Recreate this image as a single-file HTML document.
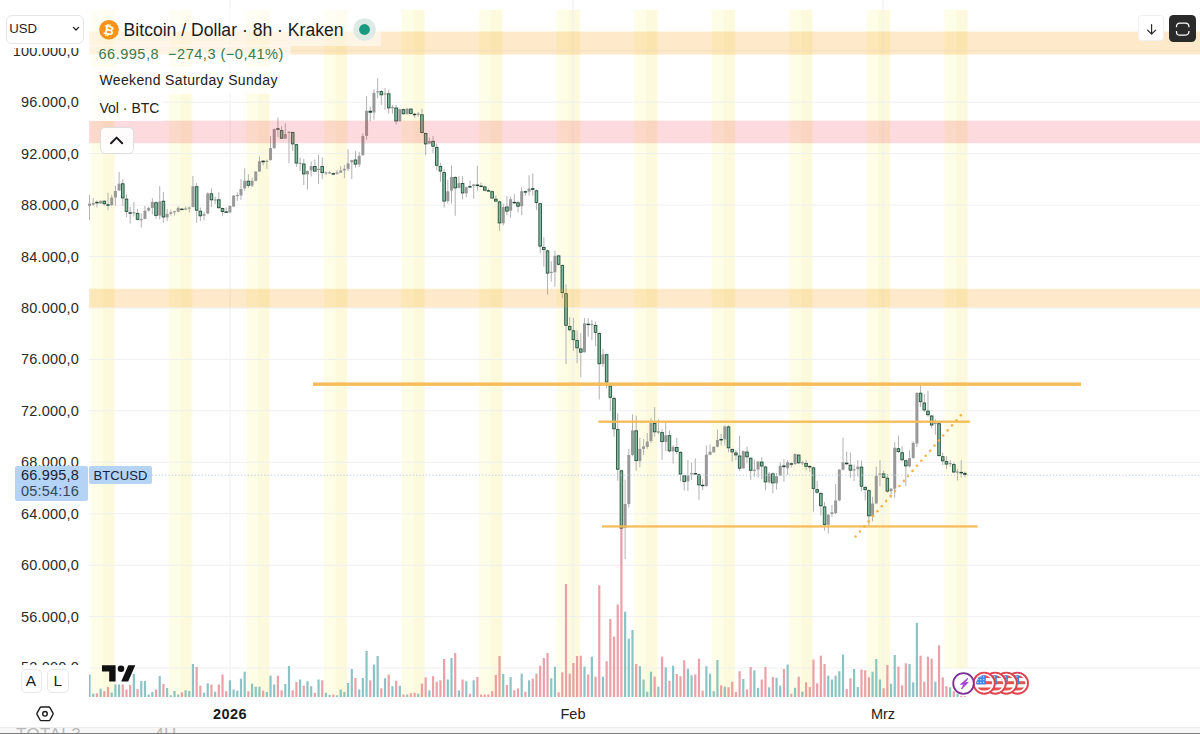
<!DOCTYPE html><html><head><meta charset="utf-8"><title>BTCUSD</title><style>
html,body{margin:0;padding:0;background:#fff;}
body{width:1200px;height:734px;overflow:hidden;position:relative;font-family:"Liberation Sans",sans-serif;color:#1e1e1e;}
.abs{position:absolute;}
.pl{position:absolute;right:1121px;font-size:14.5px;color:#2b2b2b;white-space:nowrap;line-height:16px;height:16px;letter-spacing:0.2px}
.btn{position:absolute;background:#fff;border:1px solid #e3e3e3;border-radius:5px;box-sizing:border-box;}
</style></head><body>
<svg id="chart" width="1200" height="734" viewBox="0 0 1200 734" style="position:absolute;left:0;top:0">
<defs><linearGradient id="wk" x1="0" x2="1" y1="0" y2="0"><stop offset="0" stop-color="#fffff6"/><stop offset="0.07" stop-color="#fefde8"/><stop offset="0.49" stop-color="#fefde5"/><stop offset="0.53" stop-color="#fcfadd"/><stop offset="0.93" stop-color="#fcf9dc"/><stop offset="1" stop-color="#fffef4"/></linearGradient></defs>
<rect x="90.6" y="10" width="24.5" height="687" fill="url(#wk)"/>
<rect x="168.2" y="10" width="24.5" height="687" fill="url(#wk)"/>
<rect x="245.7" y="10" width="24.5" height="687" fill="url(#wk)"/>
<rect x="323.3" y="10" width="24.5" height="687" fill="url(#wk)"/>
<rect x="400.8" y="10" width="24.5" height="687" fill="url(#wk)"/>
<rect x="478.4" y="10" width="24.5" height="687" fill="url(#wk)"/>
<rect x="556.0" y="10" width="24.5" height="687" fill="url(#wk)"/>
<rect x="633.5" y="10" width="24.5" height="687" fill="url(#wk)"/>
<rect x="711.1" y="10" width="24.5" height="687" fill="url(#wk)"/>
<rect x="788.6" y="10" width="24.5" height="687" fill="url(#wk)"/>
<rect x="866.2" y="10" width="24.5" height="687" fill="url(#wk)"/>
<rect x="943.8" y="10" width="24.5" height="658.7" fill="url(#wk)"/>
<rect x="89" y="667.5" width="1111" height="1" fill="#f0f0f0"/>
<rect x="89" y="616.1" width="1111" height="1" fill="#f0f0f0"/>
<rect x="89" y="564.7" width="1111" height="1" fill="#f0f0f0"/>
<rect x="89" y="513.2" width="1111" height="1" fill="#f0f0f0"/>
<rect x="89" y="461.8" width="1111" height="1" fill="#f0f0f0"/>
<rect x="89" y="410.3" width="1111" height="1" fill="#f0f0f0"/>
<rect x="89" y="358.9" width="1111" height="1" fill="#f0f0f0"/>
<rect x="89" y="307.5" width="1111" height="1" fill="#f0f0f0"/>
<rect x="89" y="256.0" width="1111" height="1" fill="#f0f0f0"/>
<rect x="89" y="204.6" width="1111" height="1" fill="#f0f0f0"/>
<rect x="89" y="153.1" width="1111" height="1" fill="#f0f0f0"/>
<rect x="89" y="101.7" width="1111" height="1" fill="#f0f0f0"/>
<rect x="89" y="50.3" width="1111" height="1" fill="#f0f0f0"/>
<rect x="229.5" y="0" width="1" height="697" fill="#f0f0f0"/>
<rect x="572.5" y="0" width="1" height="697" fill="#f0f0f0"/>
<rect x="882.5" y="0" width="1" height="697" fill="#f0f0f0"/>
<rect x="88.45" y="674.5" width="2.2" height="22.5" fill="#6fb5b6" fill-opacity="0.8"/>
<rect x="92.14" y="693.7" width="2.2" height="3.3" fill="#6fb5b6" fill-opacity="0.8"/>
<rect x="95.84" y="693.3" width="2.2" height="3.7" fill="#e58a92" fill-opacity="0.8"/>
<rect x="99.53" y="688.7" width="2.2" height="8.3" fill="#6fb5b6" fill-opacity="0.8"/>
<rect x="103.22" y="691.2" width="2.2" height="5.8" fill="#e58a92" fill-opacity="0.8"/>
<rect x="106.92" y="687.0" width="2.2" height="10.0" fill="#e58a92" fill-opacity="0.8"/>
<rect x="110.61" y="692.5" width="2.2" height="4.5" fill="#6fb5b6" fill-opacity="0.8"/>
<rect x="114.30" y="684.5" width="2.2" height="12.5" fill="#6fb5b6" fill-opacity="0.8"/>
<rect x="118.00" y="684.5" width="2.2" height="12.5" fill="#6fb5b6" fill-opacity="0.8"/>
<rect x="121.69" y="684.5" width="2.2" height="12.5" fill="#e58a92" fill-opacity="0.8"/>
<rect x="125.38" y="689.5" width="2.2" height="7.5" fill="#e58a92" fill-opacity="0.8"/>
<rect x="129.08" y="685.0" width="2.2" height="12.0" fill="#e58a92" fill-opacity="0.8"/>
<rect x="132.77" y="674.0" width="2.2" height="23.0" fill="#6fb5b6" fill-opacity="0.8"/>
<rect x="136.47" y="689.0" width="2.2" height="8.0" fill="#e58a92" fill-opacity="0.8"/>
<rect x="140.16" y="681.0" width="2.2" height="16.0" fill="#6fb5b6" fill-opacity="0.8"/>
<rect x="143.85" y="681.0" width="2.2" height="16.0" fill="#6fb5b6" fill-opacity="0.8"/>
<rect x="147.55" y="694.5" width="2.2" height="2.5" fill="#6fb5b6" fill-opacity="0.8"/>
<rect x="151.24" y="692.0" width="2.2" height="5.0" fill="#6fb5b6" fill-opacity="0.8"/>
<rect x="154.93" y="689.5" width="2.2" height="7.5" fill="#e58a92" fill-opacity="0.8"/>
<rect x="158.63" y="676.0" width="2.2" height="21.0" fill="#6fb5b6" fill-opacity="0.8"/>
<rect x="162.32" y="684.0" width="2.2" height="13.0" fill="#e58a92" fill-opacity="0.8"/>
<rect x="166.01" y="688.0" width="2.2" height="9.0" fill="#6fb5b6" fill-opacity="0.8"/>
<rect x="169.71" y="695.3" width="2.2" height="1.7" fill="#6fb5b6" fill-opacity="0.8"/>
<rect x="173.40" y="691.0" width="2.2" height="6.0" fill="#6fb5b6" fill-opacity="0.8"/>
<rect x="177.09" y="694.5" width="2.2" height="2.5" fill="#6fb5b6" fill-opacity="0.8"/>
<rect x="180.79" y="692.3" width="2.2" height="4.7" fill="#e58a92" fill-opacity="0.8"/>
<rect x="184.48" y="690.3" width="2.2" height="6.7" fill="#6fb5b6" fill-opacity="0.8"/>
<rect x="188.17" y="691.0" width="2.2" height="6.0" fill="#6fb5b6" fill-opacity="0.8"/>
<rect x="191.87" y="664.0" width="2.2" height="33.0" fill="#6fb5b6" fill-opacity="0.8"/>
<rect x="195.56" y="667.0" width="2.2" height="30.0" fill="#e58a92" fill-opacity="0.8"/>
<rect x="199.25" y="685.7" width="2.2" height="11.3" fill="#e58a92" fill-opacity="0.8"/>
<rect x="202.95" y="692.8" width="2.2" height="4.2" fill="#6fb5b6" fill-opacity="0.8"/>
<rect x="206.64" y="683.3" width="2.2" height="13.7" fill="#6fb5b6" fill-opacity="0.8"/>
<rect x="210.34" y="684.5" width="2.2" height="12.5" fill="#e58a92" fill-opacity="0.8"/>
<rect x="214.03" y="691.7" width="2.2" height="5.3" fill="#6fb5b6" fill-opacity="0.8"/>
<rect x="217.72" y="684.5" width="2.2" height="12.5" fill="#e58a92" fill-opacity="0.8"/>
<rect x="221.42" y="674.5" width="2.2" height="22.5" fill="#e58a92" fill-opacity="0.8"/>
<rect x="225.11" y="691.2" width="2.2" height="5.8" fill="#e58a92" fill-opacity="0.8"/>
<rect x="228.80" y="680.3" width="2.2" height="16.7" fill="#6fb5b6" fill-opacity="0.8"/>
<rect x="232.50" y="689.5" width="2.2" height="7.5" fill="#6fb5b6" fill-opacity="0.8"/>
<rect x="236.19" y="690.7" width="2.2" height="6.3" fill="#6fb5b6" fill-opacity="0.8"/>
<rect x="239.88" y="678.7" width="2.2" height="18.3" fill="#6fb5b6" fill-opacity="0.8"/>
<rect x="243.58" y="671.7" width="2.2" height="25.3" fill="#6fb5b6" fill-opacity="0.8"/>
<rect x="247.27" y="691.2" width="2.2" height="5.8" fill="#e58a92" fill-opacity="0.8"/>
<rect x="250.96" y="683.7" width="2.2" height="13.3" fill="#6fb5b6" fill-opacity="0.8"/>
<rect x="254.66" y="686.7" width="2.2" height="10.3" fill="#6fb5b6" fill-opacity="0.8"/>
<rect x="258.35" y="686.7" width="2.2" height="10.3" fill="#6fb5b6" fill-opacity="0.8"/>
<rect x="262.04" y="690.7" width="2.2" height="6.3" fill="#e58a92" fill-opacity="0.8"/>
<rect x="265.74" y="692.0" width="2.2" height="5.0" fill="#6fb5b6" fill-opacity="0.8"/>
<rect x="269.43" y="675.7" width="2.2" height="21.3" fill="#6fb5b6" fill-opacity="0.8"/>
<rect x="273.12" y="684.5" width="2.2" height="12.5" fill="#6fb5b6" fill-opacity="0.8"/>
<rect x="276.82" y="675.7" width="2.2" height="21.3" fill="#e58a92" fill-opacity="0.8"/>
<rect x="280.51" y="690.3" width="2.2" height="6.7" fill="#e58a92" fill-opacity="0.8"/>
<rect x="284.21" y="684.0" width="2.2" height="13.0" fill="#6fb5b6" fill-opacity="0.8"/>
<rect x="287.90" y="666.0" width="2.2" height="31.0" fill="#6fb5b6" fill-opacity="0.8"/>
<rect x="291.59" y="690.3" width="2.2" height="6.7" fill="#e58a92" fill-opacity="0.8"/>
<rect x="295.29" y="682.0" width="2.2" height="15.0" fill="#e58a92" fill-opacity="0.8"/>
<rect x="298.98" y="679.5" width="2.2" height="17.5" fill="#6fb5b6" fill-opacity="0.8"/>
<rect x="302.67" y="685.7" width="2.2" height="11.3" fill="#e58a92" fill-opacity="0.8"/>
<rect x="306.37" y="681.2" width="2.2" height="15.8" fill="#6fb5b6" fill-opacity="0.8"/>
<rect x="310.06" y="686.2" width="2.2" height="10.8" fill="#6fb5b6" fill-opacity="0.8"/>
<rect x="313.75" y="692.8" width="2.2" height="4.2" fill="#e58a92" fill-opacity="0.8"/>
<rect x="317.45" y="679.5" width="2.2" height="17.5" fill="#6fb5b6" fill-opacity="0.8"/>
<rect x="321.14" y="680.3" width="2.2" height="16.7" fill="#e58a92" fill-opacity="0.8"/>
<rect x="324.83" y="692.8" width="2.2" height="4.2" fill="#6fb5b6" fill-opacity="0.8"/>
<rect x="328.53" y="695.0" width="2.2" height="2.0" fill="#6fb5b6" fill-opacity="0.8"/>
<rect x="332.22" y="694.5" width="2.2" height="2.5" fill="#e58a92" fill-opacity="0.8"/>
<rect x="335.91" y="695.3" width="2.2" height="1.7" fill="#6fb5b6" fill-opacity="0.8"/>
<rect x="339.61" y="689.5" width="2.2" height="7.5" fill="#6fb5b6" fill-opacity="0.8"/>
<rect x="343.30" y="692.0" width="2.2" height="5.0" fill="#6fb5b6" fill-opacity="0.8"/>
<rect x="346.99" y="683.0" width="2.2" height="14.0" fill="#6fb5b6" fill-opacity="0.8"/>
<rect x="350.69" y="669.0" width="2.2" height="28.0" fill="#6fb5b6" fill-opacity="0.8"/>
<rect x="354.38" y="678.0" width="2.2" height="19.0" fill="#e58a92" fill-opacity="0.8"/>
<rect x="358.08" y="689.5" width="2.2" height="7.5" fill="#6fb5b6" fill-opacity="0.8"/>
<rect x="361.77" y="678.0" width="2.2" height="19.0" fill="#6fb5b6" fill-opacity="0.8"/>
<rect x="365.46" y="651.0" width="2.2" height="46.0" fill="#6fb5b6" fill-opacity="0.8"/>
<rect x="369.16" y="680.3" width="2.2" height="16.7" fill="#e58a92" fill-opacity="0.8"/>
<rect x="372.85" y="664.5" width="2.2" height="32.5" fill="#6fb5b6" fill-opacity="0.8"/>
<rect x="376.54" y="656.0" width="2.2" height="41.0" fill="#6fb5b6" fill-opacity="0.8"/>
<rect x="380.24" y="688.3" width="2.2" height="8.7" fill="#e58a92" fill-opacity="0.8"/>
<rect x="383.93" y="678.3" width="2.2" height="18.7" fill="#6fb5b6" fill-opacity="0.8"/>
<rect x="387.62" y="674.5" width="2.2" height="22.5" fill="#e58a92" fill-opacity="0.8"/>
<rect x="391.32" y="686.2" width="2.2" height="10.8" fill="#6fb5b6" fill-opacity="0.8"/>
<rect x="395.01" y="680.7" width="2.2" height="16.3" fill="#e58a92" fill-opacity="0.8"/>
<rect x="398.70" y="685.7" width="2.2" height="11.3" fill="#6fb5b6" fill-opacity="0.8"/>
<rect x="402.40" y="694.5" width="2.2" height="2.5" fill="#e58a92" fill-opacity="0.8"/>
<rect x="406.09" y="694.5" width="2.2" height="2.5" fill="#6fb5b6" fill-opacity="0.8"/>
<rect x="409.78" y="693.3" width="2.2" height="3.7" fill="#e58a92" fill-opacity="0.8"/>
<rect x="413.48" y="692.8" width="2.2" height="4.2" fill="#e58a92" fill-opacity="0.8"/>
<rect x="417.17" y="693.7" width="2.2" height="3.3" fill="#6fb5b6" fill-opacity="0.8"/>
<rect x="420.86" y="683.7" width="2.2" height="13.3" fill="#e58a92" fill-opacity="0.8"/>
<rect x="424.56" y="677.3" width="2.2" height="19.7" fill="#e58a92" fill-opacity="0.8"/>
<rect x="428.25" y="690.3" width="2.2" height="6.7" fill="#6fb5b6" fill-opacity="0.8"/>
<rect x="431.95" y="676.2" width="2.2" height="20.8" fill="#e58a92" fill-opacity="0.8"/>
<rect x="435.64" y="681.7" width="2.2" height="15.3" fill="#e58a92" fill-opacity="0.8"/>
<rect x="439.33" y="680.3" width="2.2" height="16.7" fill="#e58a92" fill-opacity="0.8"/>
<rect x="443.03" y="659.0" width="2.2" height="38.0" fill="#e58a92" fill-opacity="0.8"/>
<rect x="446.72" y="679.5" width="2.2" height="17.5" fill="#6fb5b6" fill-opacity="0.8"/>
<rect x="450.41" y="658.0" width="2.2" height="39.0" fill="#6fb5b6" fill-opacity="0.8"/>
<rect x="454.11" y="653.0" width="2.2" height="44.0" fill="#e58a92" fill-opacity="0.8"/>
<rect x="457.80" y="690.3" width="2.2" height="6.7" fill="#6fb5b6" fill-opacity="0.8"/>
<rect x="461.49" y="679.5" width="2.2" height="17.5" fill="#e58a92" fill-opacity="0.8"/>
<rect x="465.19" y="681.2" width="2.2" height="15.8" fill="#6fb5b6" fill-opacity="0.8"/>
<rect x="468.88" y="693.7" width="2.2" height="3.3" fill="#e58a92" fill-opacity="0.8"/>
<rect x="472.57" y="680.3" width="2.2" height="16.7" fill="#6fb5b6" fill-opacity="0.8"/>
<rect x="476.27" y="677.0" width="2.2" height="20.0" fill="#e58a92" fill-opacity="0.8"/>
<rect x="479.96" y="694.5" width="2.2" height="2.5" fill="#e58a92" fill-opacity="0.8"/>
<rect x="483.65" y="694.5" width="2.2" height="2.5" fill="#e58a92" fill-opacity="0.8"/>
<rect x="487.35" y="694.5" width="2.2" height="2.5" fill="#e58a92" fill-opacity="0.8"/>
<rect x="491.04" y="691.2" width="2.2" height="5.8" fill="#e58a92" fill-opacity="0.8"/>
<rect x="494.73" y="675.0" width="2.2" height="22.0" fill="#e58a92" fill-opacity="0.8"/>
<rect x="498.43" y="656.0" width="2.2" height="41.0" fill="#e58a92" fill-opacity="0.8"/>
<rect x="502.12" y="674.0" width="2.2" height="23.0" fill="#6fb5b6" fill-opacity="0.8"/>
<rect x="505.82" y="685.0" width="2.2" height="12.0" fill="#e58a92" fill-opacity="0.8"/>
<rect x="509.51" y="677.0" width="2.2" height="20.0" fill="#6fb5b6" fill-opacity="0.8"/>
<rect x="513.20" y="690.3" width="2.2" height="6.7" fill="#e58a92" fill-opacity="0.8"/>
<rect x="516.90" y="688.3" width="2.2" height="8.7" fill="#e58a92" fill-opacity="0.8"/>
<rect x="520.59" y="673.7" width="2.2" height="23.3" fill="#6fb5b6" fill-opacity="0.8"/>
<rect x="524.28" y="691.7" width="2.2" height="5.3" fill="#e58a92" fill-opacity="0.8"/>
<rect x="527.98" y="680.3" width="2.2" height="16.7" fill="#6fb5b6" fill-opacity="0.8"/>
<rect x="531.67" y="678.7" width="2.2" height="18.3" fill="#e58a92" fill-opacity="0.8"/>
<rect x="535.36" y="673.7" width="2.2" height="23.3" fill="#e58a92" fill-opacity="0.8"/>
<rect x="539.06" y="665.7" width="2.2" height="31.3" fill="#e58a92" fill-opacity="0.8"/>
<rect x="542.75" y="658.0" width="2.2" height="39.0" fill="#e58a92" fill-opacity="0.8"/>
<rect x="546.44" y="653.0" width="2.2" height="44.0" fill="#e58a92" fill-opacity="0.8"/>
<rect x="550.14" y="678.3" width="2.2" height="18.7" fill="#6fb5b6" fill-opacity="0.8"/>
<rect x="553.83" y="666.7" width="2.2" height="30.3" fill="#6fb5b6" fill-opacity="0.8"/>
<rect x="557.52" y="692.3" width="2.2" height="4.7" fill="#e58a92" fill-opacity="0.8"/>
<rect x="561.22" y="672.3" width="2.2" height="24.7" fill="#e58a92" fill-opacity="0.8"/>
<rect x="564.91" y="584.0" width="2.2" height="113.0" fill="#e58a92" fill-opacity="0.8"/>
<rect x="568.60" y="673.7" width="2.2" height="23.3" fill="#e58a92" fill-opacity="0.8"/>
<rect x="572.30" y="663.0" width="2.2" height="34.0" fill="#e58a92" fill-opacity="0.8"/>
<rect x="575.99" y="656.0" width="2.2" height="41.0" fill="#e58a92" fill-opacity="0.8"/>
<rect x="579.69" y="655.7" width="2.2" height="41.3" fill="#e58a92" fill-opacity="0.8"/>
<rect x="583.38" y="666.7" width="2.2" height="30.3" fill="#6fb5b6" fill-opacity="0.8"/>
<rect x="587.07" y="674.5" width="2.2" height="22.5" fill="#e58a92" fill-opacity="0.8"/>
<rect x="590.77" y="656.7" width="2.2" height="40.3" fill="#6fb5b6" fill-opacity="0.8"/>
<rect x="594.46" y="676.7" width="2.2" height="20.3" fill="#e58a92" fill-opacity="0.8"/>
<rect x="598.15" y="585.3" width="2.2" height="111.7" fill="#e58a92" fill-opacity="0.8"/>
<rect x="601.85" y="676.7" width="2.2" height="20.3" fill="#6fb5b6" fill-opacity="0.8"/>
<rect x="605.54" y="661.2" width="2.2" height="35.8" fill="#e58a92" fill-opacity="0.8"/>
<rect x="609.23" y="619.0" width="2.2" height="78.0" fill="#e58a92" fill-opacity="0.8"/>
<rect x="612.93" y="636.7" width="2.2" height="60.3" fill="#e58a92" fill-opacity="0.8"/>
<rect x="616.62" y="604.5" width="2.2" height="92.5" fill="#e58a92" fill-opacity="0.8"/>
<rect x="620.31" y="527.0" width="2.2" height="170.0" fill="#e58a92" fill-opacity="0.8"/>
<rect x="624.01" y="611.7" width="2.2" height="85.3" fill="#6fb5b6" fill-opacity="0.8"/>
<rect x="627.70" y="638.7" width="2.2" height="58.3" fill="#6fb5b6" fill-opacity="0.8"/>
<rect x="631.39" y="630.0" width="2.2" height="67.0" fill="#6fb5b6" fill-opacity="0.8"/>
<rect x="635.09" y="664.0" width="2.2" height="33.0" fill="#e58a92" fill-opacity="0.8"/>
<rect x="638.78" y="666.2" width="2.2" height="30.8" fill="#6fb5b6" fill-opacity="0.8"/>
<rect x="642.47" y="679.5" width="2.2" height="17.5" fill="#6fb5b6" fill-opacity="0.8"/>
<rect x="646.17" y="691.7" width="2.2" height="5.3" fill="#6fb5b6" fill-opacity="0.8"/>
<rect x="649.86" y="671.7" width="2.2" height="25.3" fill="#6fb5b6" fill-opacity="0.8"/>
<rect x="653.56" y="676.7" width="2.2" height="20.3" fill="#e58a92" fill-opacity="0.8"/>
<rect x="657.25" y="686.7" width="2.2" height="10.3" fill="#6fb5b6" fill-opacity="0.8"/>
<rect x="660.94" y="656.7" width="2.2" height="40.3" fill="#e58a92" fill-opacity="0.8"/>
<rect x="664.64" y="667.3" width="2.2" height="29.7" fill="#6fb5b6" fill-opacity="0.8"/>
<rect x="668.33" y="680.8" width="2.2" height="16.2" fill="#e58a92" fill-opacity="0.8"/>
<rect x="672.02" y="665.7" width="2.2" height="31.3" fill="#6fb5b6" fill-opacity="0.8"/>
<rect x="675.72" y="674.0" width="2.2" height="23.0" fill="#e58a92" fill-opacity="0.8"/>
<rect x="679.41" y="676.2" width="2.2" height="20.8" fill="#e58a92" fill-opacity="0.8"/>
<rect x="683.10" y="660.3" width="2.2" height="36.7" fill="#e58a92" fill-opacity="0.8"/>
<rect x="686.80" y="668.7" width="2.2" height="28.3" fill="#6fb5b6" fill-opacity="0.8"/>
<rect x="690.49" y="675.3" width="2.2" height="21.7" fill="#6fb5b6" fill-opacity="0.8"/>
<rect x="694.18" y="674.5" width="2.2" height="22.5" fill="#e58a92" fill-opacity="0.8"/>
<rect x="697.88" y="658.7" width="2.2" height="38.3" fill="#e58a92" fill-opacity="0.8"/>
<rect x="701.57" y="690.7" width="2.2" height="6.3" fill="#e58a92" fill-opacity="0.8"/>
<rect x="705.26" y="666.2" width="2.2" height="30.8" fill="#6fb5b6" fill-opacity="0.8"/>
<rect x="708.96" y="673.7" width="2.2" height="23.3" fill="#6fb5b6" fill-opacity="0.8"/>
<rect x="712.65" y="691.2" width="2.2" height="5.8" fill="#6fb5b6" fill-opacity="0.8"/>
<rect x="716.34" y="660.0" width="2.2" height="37.0" fill="#6fb5b6" fill-opacity="0.8"/>
<rect x="720.04" y="685.3" width="2.2" height="11.7" fill="#e58a92" fill-opacity="0.8"/>
<rect x="723.73" y="686.7" width="2.2" height="10.3" fill="#6fb5b6" fill-opacity="0.8"/>
<rect x="727.43" y="687.3" width="2.2" height="9.7" fill="#e58a92" fill-opacity="0.8"/>
<rect x="731.12" y="681.7" width="2.2" height="15.3" fill="#e58a92" fill-opacity="0.8"/>
<rect x="734.81" y="692.0" width="2.2" height="5.0" fill="#e58a92" fill-opacity="0.8"/>
<rect x="738.51" y="671.2" width="2.2" height="25.8" fill="#e58a92" fill-opacity="0.8"/>
<rect x="742.20" y="679.0" width="2.2" height="18.0" fill="#6fb5b6" fill-opacity="0.8"/>
<rect x="745.89" y="689.5" width="2.2" height="7.5" fill="#e58a92" fill-opacity="0.8"/>
<rect x="749.59" y="667.0" width="2.2" height="30.0" fill="#e58a92" fill-opacity="0.8"/>
<rect x="753.28" y="670.3" width="2.2" height="26.7" fill="#6fb5b6" fill-opacity="0.8"/>
<rect x="756.97" y="687.8" width="2.2" height="9.2" fill="#6fb5b6" fill-opacity="0.8"/>
<rect x="760.67" y="679.5" width="2.2" height="17.5" fill="#e58a92" fill-opacity="0.8"/>
<rect x="764.36" y="667.0" width="2.2" height="30.0" fill="#e58a92" fill-opacity="0.8"/>
<rect x="768.05" y="687.3" width="2.2" height="9.7" fill="#6fb5b6" fill-opacity="0.8"/>
<rect x="771.75" y="677.0" width="2.2" height="20.0" fill="#e58a92" fill-opacity="0.8"/>
<rect x="775.44" y="677.8" width="2.2" height="19.2" fill="#6fb5b6" fill-opacity="0.8"/>
<rect x="779.13" y="685.7" width="2.2" height="11.3" fill="#6fb5b6" fill-opacity="0.8"/>
<rect x="782.83" y="669.0" width="2.2" height="28.0" fill="#e58a92" fill-opacity="0.8"/>
<rect x="786.52" y="664.5" width="2.2" height="32.5" fill="#6fb5b6" fill-opacity="0.8"/>
<rect x="790.21" y="693.7" width="2.2" height="3.3" fill="#e58a92" fill-opacity="0.8"/>
<rect x="793.91" y="687.8" width="2.2" height="9.2" fill="#6fb5b6" fill-opacity="0.8"/>
<rect x="797.60" y="676.7" width="2.2" height="20.3" fill="#e58a92" fill-opacity="0.8"/>
<rect x="801.30" y="691.7" width="2.2" height="5.3" fill="#6fb5b6" fill-opacity="0.8"/>
<rect x="804.99" y="682.3" width="2.2" height="14.7" fill="#e58a92" fill-opacity="0.8"/>
<rect x="808.68" y="687.0" width="2.2" height="10.0" fill="#e58a92" fill-opacity="0.8"/>
<rect x="812.38" y="659.5" width="2.2" height="37.5" fill="#e58a92" fill-opacity="0.8"/>
<rect x="816.07" y="683.3" width="2.2" height="13.7" fill="#e58a92" fill-opacity="0.8"/>
<rect x="819.76" y="655.7" width="2.2" height="41.3" fill="#e58a92" fill-opacity="0.8"/>
<rect x="823.46" y="664.0" width="2.2" height="33.0" fill="#e58a92" fill-opacity="0.8"/>
<rect x="827.15" y="675.7" width="2.2" height="21.3" fill="#6fb5b6" fill-opacity="0.8"/>
<rect x="830.84" y="679.5" width="2.2" height="17.5" fill="#6fb5b6" fill-opacity="0.8"/>
<rect x="834.54" y="675.7" width="2.2" height="21.3" fill="#6fb5b6" fill-opacity="0.8"/>
<rect x="838.23" y="671.2" width="2.2" height="25.8" fill="#6fb5b6" fill-opacity="0.8"/>
<rect x="841.92" y="654.5" width="2.2" height="42.5" fill="#6fb5b6" fill-opacity="0.8"/>
<rect x="845.62" y="689.0" width="2.2" height="8.0" fill="#e58a92" fill-opacity="0.8"/>
<rect x="849.31" y="678.3" width="2.2" height="18.7" fill="#e58a92" fill-opacity="0.8"/>
<rect x="853.00" y="669.0" width="2.2" height="28.0" fill="#6fb5b6" fill-opacity="0.8"/>
<rect x="856.70" y="687.0" width="2.2" height="10.0" fill="#6fb5b6" fill-opacity="0.8"/>
<rect x="860.39" y="669.5" width="2.2" height="27.5" fill="#e58a92" fill-opacity="0.8"/>
<rect x="864.08" y="670.3" width="2.2" height="26.7" fill="#e58a92" fill-opacity="0.8"/>
<rect x="867.78" y="677.3" width="2.2" height="19.7" fill="#e58a92" fill-opacity="0.8"/>
<rect x="871.47" y="671.7" width="2.2" height="25.3" fill="#6fb5b6" fill-opacity="0.8"/>
<rect x="875.17" y="659.0" width="2.2" height="38.0" fill="#6fb5b6" fill-opacity="0.8"/>
<rect x="878.86" y="679.5" width="2.2" height="17.5" fill="#6fb5b6" fill-opacity="0.8"/>
<rect x="882.55" y="688.3" width="2.2" height="8.7" fill="#e58a92" fill-opacity="0.8"/>
<rect x="886.25" y="665.0" width="2.2" height="32.0" fill="#e58a92" fill-opacity="0.8"/>
<rect x="889.94" y="683.7" width="2.2" height="13.3" fill="#6fb5b6" fill-opacity="0.8"/>
<rect x="893.63" y="655.0" width="2.2" height="42.0" fill="#6fb5b6" fill-opacity="0.8"/>
<rect x="897.33" y="666.7" width="2.2" height="30.3" fill="#e58a92" fill-opacity="0.8"/>
<rect x="901.02" y="685.3" width="2.2" height="11.7" fill="#e58a92" fill-opacity="0.8"/>
<rect x="904.71" y="663.3" width="2.2" height="33.7" fill="#e58a92" fill-opacity="0.8"/>
<rect x="908.41" y="664.0" width="2.2" height="33.0" fill="#6fb5b6" fill-opacity="0.8"/>
<rect x="912.10" y="682.3" width="2.2" height="14.7" fill="#6fb5b6" fill-opacity="0.8"/>
<rect x="915.79" y="622.8" width="2.2" height="74.2" fill="#6fb5b6" fill-opacity="0.8"/>
<rect x="919.49" y="655.7" width="2.2" height="41.3" fill="#e58a92" fill-opacity="0.8"/>
<rect x="923.18" y="681.7" width="2.2" height="15.3" fill="#e58a92" fill-opacity="0.8"/>
<rect x="926.87" y="656.7" width="2.2" height="40.3" fill="#e58a92" fill-opacity="0.8"/>
<rect x="930.57" y="658.7" width="2.2" height="38.3" fill="#e58a92" fill-opacity="0.8"/>
<rect x="934.26" y="681.7" width="2.2" height="15.3" fill="#6fb5b6" fill-opacity="0.8"/>
<rect x="937.95" y="645.3" width="2.2" height="51.7" fill="#e58a92" fill-opacity="0.8"/>
<rect x="941.65" y="677.3" width="2.2" height="19.7" fill="#e58a92" fill-opacity="0.8"/>
<rect x="945.34" y="686.2" width="2.2" height="10.8" fill="#e58a92" fill-opacity="0.8"/>
<rect x="949.04" y="687.3" width="2.2" height="9.7" fill="#6fb5b6" fill-opacity="0.8"/>
<rect x="952.73" y="691.2" width="2.2" height="5.8" fill="#e58a92" fill-opacity="0.8"/>
<rect x="956.42" y="693.7" width="2.2" height="3.3" fill="#6fb5b6" fill-opacity="0.8"/>
<rect x="960.12" y="695.7" width="2.2" height="1.3" fill="#e58a92" fill-opacity="0.8"/>
<rect x="963.81" y="696.2" width="2.2" height="0.8" fill="#e58a92" fill-opacity="0.8"/>
<rect x="89.05" y="194.9" width="1" height="25.1" fill="#b2b2b2"/>
<rect x="92.74" y="198.1" width="1" height="7.6" fill="#b2b2b2"/>
<rect x="96.44" y="200.3" width="1" height="7.1" fill="#b2b2b2"/>
<rect x="100.13" y="200.5" width="1" height="3.3" fill="#b2b2b2"/>
<rect x="103.82" y="200.3" width="1" height="5.4" fill="#b2b2b2"/>
<rect x="107.52" y="192.7" width="1" height="17.4" fill="#b2b2b2"/>
<rect x="111.21" y="194.9" width="1" height="10.9" fill="#b2b2b2"/>
<rect x="114.90" y="185.6" width="1" height="20.2" fill="#b2b2b2"/>
<rect x="118.60" y="172.0" width="1" height="19.1" fill="#b2b2b2"/>
<rect x="122.29" y="179.1" width="1" height="26.7" fill="#b2b2b2"/>
<rect x="125.98" y="194.3" width="1" height="22.9" fill="#b2b2b2"/>
<rect x="129.68" y="206.8" width="1" height="16.9" fill="#b2b2b2"/>
<rect x="133.37" y="201.9" width="1" height="14.7" fill="#b2b2b2"/>
<rect x="137.07" y="209.0" width="1" height="11.4" fill="#b2b2b2"/>
<rect x="140.76" y="213.4" width="1" height="14.2" fill="#b2b2b2"/>
<rect x="144.45" y="205.8" width="1" height="13.6" fill="#b2b2b2"/>
<rect x="148.15" y="206.8" width="1" height="4.9" fill="#b2b2b2"/>
<rect x="151.84" y="198.1" width="1" height="16.3" fill="#b2b2b2"/>
<rect x="155.53" y="201.4" width="1" height="17.4" fill="#b2b2b2"/>
<rect x="159.23" y="186.1" width="1" height="33.2" fill="#b2b2b2"/>
<rect x="162.92" y="192.1" width="1" height="30.5" fill="#b2b2b2"/>
<rect x="166.61" y="209.0" width="1" height="12.0" fill="#b2b2b2"/>
<rect x="170.31" y="209.6" width="1" height="6.0" fill="#b2b2b2"/>
<rect x="174.00" y="210.7" width="1" height="4.9" fill="#b2b2b2"/>
<rect x="177.69" y="206.3" width="1" height="6.0" fill="#b2b2b2"/>
<rect x="181.39" y="207.9" width="1" height="2.2" fill="#b2b2b2"/>
<rect x="185.08" y="206.3" width="1" height="3.8" fill="#b2b2b2"/>
<rect x="188.77" y="206.4" width="1" height="6.0" fill="#b2b2b2"/>
<rect x="192.47" y="175.9" width="1" height="31.6" fill="#b2b2b2"/>
<rect x="196.16" y="183.0" width="1" height="39.8" fill="#b2b2b2"/>
<rect x="199.85" y="207.5" width="1" height="13.6" fill="#b2b2b2"/>
<rect x="203.55" y="211.9" width="1" height="8.7" fill="#b2b2b2"/>
<rect x="207.24" y="192.3" width="1" height="21.8" fill="#b2b2b2"/>
<rect x="210.94" y="188.5" width="1" height="18.5" fill="#b2b2b2"/>
<rect x="214.63" y="196.6" width="1" height="7.6" fill="#b2b2b2"/>
<rect x="218.32" y="192.3" width="1" height="16.3" fill="#b2b2b2"/>
<rect x="222.02" y="207.5" width="1" height="8.7" fill="#b2b2b2"/>
<rect x="225.71" y="207.5" width="1" height="4.9" fill="#b2b2b2"/>
<rect x="229.40" y="205.4" width="1" height="7.6" fill="#b2b2b2"/>
<rect x="233.10" y="195.0" width="1" height="12.0" fill="#b2b2b2"/>
<rect x="236.79" y="192.3" width="1" height="8.7" fill="#b2b2b2"/>
<rect x="240.48" y="179.2" width="1" height="20.7" fill="#b2b2b2"/>
<rect x="244.18" y="168.3" width="1" height="22.3" fill="#b2b2b2"/>
<rect x="247.87" y="174.3" width="1" height="13.6" fill="#b2b2b2"/>
<rect x="251.56" y="177.6" width="1" height="9.3" fill="#b2b2b2"/>
<rect x="255.26" y="171.0" width="1" height="10.3" fill="#b2b2b2"/>
<rect x="258.95" y="156.3" width="1" height="15.8" fill="#b2b2b2"/>
<rect x="262.64" y="160.1" width="1" height="5.4" fill="#b2b2b2"/>
<rect x="266.34" y="159.6" width="1" height="9.3" fill="#b2b2b2"/>
<rect x="270.03" y="136.1" width="1" height="24.5" fill="#b2b2b2"/>
<rect x="273.72" y="128.5" width="1" height="20.2" fill="#b2b2b2"/>
<rect x="277.42" y="117.6" width="1" height="19.6" fill="#b2b2b2"/>
<rect x="281.11" y="126.3" width="1" height="12.5" fill="#b2b2b2"/>
<rect x="284.81" y="123.1" width="1" height="15.8" fill="#b2b2b2"/>
<rect x="288.50" y="131.2" width="1" height="32.1" fill="#b2b2b2"/>
<rect x="292.19" y="131.8" width="1" height="19.1" fill="#b2b2b2"/>
<rect x="295.89" y="143.8" width="1" height="22.9" fill="#b2b2b2"/>
<rect x="299.58" y="157.4" width="1" height="13.6" fill="#b2b2b2"/>
<rect x="303.27" y="159.0" width="1" height="26.1" fill="#b2b2b2"/>
<rect x="306.97" y="170.5" width="1" height="19.1" fill="#b2b2b2"/>
<rect x="310.66" y="161.7" width="1" height="14.7" fill="#b2b2b2"/>
<rect x="314.35" y="159.6" width="1" height="12.5" fill="#b2b2b2"/>
<rect x="318.05" y="154.7" width="1" height="29.4" fill="#b2b2b2"/>
<rect x="321.74" y="157.4" width="1" height="21.8" fill="#b2b2b2"/>
<rect x="325.43" y="171.5" width="1" height="3.8" fill="#b2b2b2"/>
<rect x="329.13" y="171.0" width="1" height="2.7" fill="#b2b2b2"/>
<rect x="332.82" y="172.6" width="1" height="2.2" fill="#b2b2b2"/>
<rect x="336.51" y="169.9" width="1" height="4.9" fill="#b2b2b2"/>
<rect x="340.21" y="166.1" width="1" height="7.1" fill="#b2b2b2"/>
<rect x="343.90" y="165.0" width="1" height="13.1" fill="#b2b2b2"/>
<rect x="347.59" y="149.2" width="1" height="21.8" fill="#b2b2b2"/>
<rect x="351.29" y="159.6" width="1" height="19.6" fill="#b2b2b2"/>
<rect x="354.98" y="150.8" width="1" height="16.9" fill="#b2b2b2"/>
<rect x="358.68" y="151.9" width="1" height="15.3" fill="#b2b2b2"/>
<rect x="362.37" y="133.4" width="1" height="22.3" fill="#b2b2b2"/>
<rect x="366.06" y="96.1" width="1" height="43.6" fill="#b2b2b2"/>
<rect x="369.76" y="106.5" width="1" height="14.7" fill="#b2b2b2"/>
<rect x="373.45" y="89.1" width="1" height="30.5" fill="#b2b2b2"/>
<rect x="377.14" y="78.2" width="1" height="20.2" fill="#b2b2b2"/>
<rect x="380.84" y="90.2" width="1" height="14.7" fill="#b2b2b2"/>
<rect x="384.53" y="88.0" width="1" height="21.8" fill="#b2b2b2"/>
<rect x="388.22" y="89.6" width="1" height="24.0" fill="#b2b2b2"/>
<rect x="391.92" y="104.9" width="1" height="8.7" fill="#b2b2b2"/>
<rect x="395.61" y="104.9" width="1" height="19.6" fill="#b2b2b2"/>
<rect x="399.30" y="108.7" width="1" height="13.1" fill="#b2b2b2"/>
<rect x="403.00" y="108.7" width="1" height="6.0" fill="#b2b2b2"/>
<rect x="406.69" y="108.1" width="1" height="6.5" fill="#b2b2b2"/>
<rect x="410.38" y="108.1" width="1" height="6.5" fill="#b2b2b2"/>
<rect x="414.08" y="113.0" width="1" height="4.9" fill="#b2b2b2"/>
<rect x="417.77" y="111.9" width="1" height="4.9" fill="#b2b2b2"/>
<rect x="421.46" y="108.7" width="1" height="24.5" fill="#b2b2b2"/>
<rect x="425.16" y="132.5" width="1" height="22.8" fill="#b2b2b2"/>
<rect x="428.85" y="137.5" width="1" height="6.8" fill="#b2b2b2"/>
<rect x="432.55" y="136.1" width="1" height="17.0" fill="#b2b2b2"/>
<rect x="436.24" y="143.6" width="1" height="26.6" fill="#b2b2b2"/>
<rect x="439.93" y="162.7" width="1" height="19.1" fill="#b2b2b2"/>
<rect x="443.63" y="168.8" width="1" height="38.8" fill="#b2b2b2"/>
<rect x="447.32" y="179.7" width="1" height="23.8" fill="#b2b2b2"/>
<rect x="451.01" y="165.4" width="1" height="38.1" fill="#b2b2b2"/>
<rect x="454.71" y="176.3" width="1" height="39.5" fill="#b2b2b2"/>
<rect x="458.40" y="176.3" width="1" height="12.3" fill="#b2b2b2"/>
<rect x="462.09" y="176.3" width="1" height="23.2" fill="#b2b2b2"/>
<rect x="465.79" y="186.5" width="1" height="10.9" fill="#b2b2b2"/>
<rect x="469.48" y="180.4" width="1" height="7.5" fill="#b2b2b2"/>
<rect x="473.17" y="183.8" width="1" height="15.0" fill="#b2b2b2"/>
<rect x="476.87" y="165.7" width="1" height="24.9" fill="#b2b2b2"/>
<rect x="480.56" y="182.5" width="1" height="4.8" fill="#b2b2b2"/>
<rect x="484.25" y="185.9" width="1" height="5.4" fill="#b2b2b2"/>
<rect x="487.95" y="188.6" width="1" height="2.7" fill="#b2b2b2"/>
<rect x="491.64" y="190.6" width="1" height="8.2" fill="#b2b2b2"/>
<rect x="495.33" y="195.4" width="1" height="6.8" fill="#b2b2b2"/>
<rect x="499.03" y="200.8" width="1" height="30.0" fill="#b2b2b2"/>
<rect x="502.72" y="203.6" width="1" height="21.8" fill="#b2b2b2"/>
<rect x="506.42" y="196.1" width="1" height="19.1" fill="#b2b2b2"/>
<rect x="510.11" y="196.5" width="1" height="21.2" fill="#b2b2b2"/>
<rect x="513.80" y="193.9" width="1" height="9.7" fill="#b2b2b2"/>
<rect x="517.50" y="201.0" width="1" height="11.5" fill="#b2b2b2"/>
<rect x="521.19" y="186.8" width="1" height="28.3" fill="#b2b2b2"/>
<rect x="524.88" y="190.4" width="1" height="5.3" fill="#b2b2b2"/>
<rect x="528.58" y="175.3" width="1" height="20.4" fill="#b2b2b2"/>
<rect x="532.27" y="173.5" width="1" height="22.1" fill="#b2b2b2"/>
<rect x="535.96" y="189.5" width="1" height="20.4" fill="#b2b2b2"/>
<rect x="539.66" y="202.7" width="1" height="50.4" fill="#b2b2b2"/>
<rect x="543.35" y="237.3" width="1" height="29.2" fill="#b2b2b2"/>
<rect x="547.04" y="249.6" width="1" height="45.1" fill="#b2b2b2"/>
<rect x="550.74" y="261.2" width="1" height="20.4" fill="#b2b2b2"/>
<rect x="554.43" y="250.5" width="1" height="36.3" fill="#b2b2b2"/>
<rect x="558.12" y="254.6" width="1" height="11.0" fill="#b2b2b2"/>
<rect x="561.82" y="264.7" width="1" height="33.6" fill="#b2b2b2"/>
<rect x="565.51" y="284.4" width="1" height="79.6" fill="#b2b2b2"/>
<rect x="569.20" y="317.2" width="1" height="14.2" fill="#b2b2b2"/>
<rect x="572.90" y="318.1" width="1" height="32.7" fill="#b2b2b2"/>
<rect x="576.59" y="330.4" width="1" height="32.7" fill="#b2b2b2"/>
<rect x="580.29" y="333.1" width="1" height="44.2" fill="#b2b2b2"/>
<rect x="583.98" y="318.1" width="1" height="34.5" fill="#b2b2b2"/>
<rect x="587.67" y="318.1" width="1" height="18.6" fill="#b2b2b2"/>
<rect x="591.37" y="319.8" width="1" height="20.4" fill="#b2b2b2"/>
<rect x="595.06" y="321.6" width="1" height="24.8" fill="#b2b2b2"/>
<rect x="598.75" y="332.2" width="1" height="67.3" fill="#b2b2b2"/>
<rect x="602.45" y="349.0" width="1" height="17.7" fill="#b2b2b2"/>
<rect x="606.14" y="353.5" width="1" height="34.5" fill="#b2b2b2"/>
<rect x="609.83" y="384.4" width="1" height="26.5" fill="#b2b2b2"/>
<rect x="613.53" y="396.1" width="1" height="40.4" fill="#b2b2b2"/>
<rect x="617.22" y="413.3" width="1" height="67.4" fill="#b2b2b2"/>
<rect x="620.91" y="469.7" width="1" height="94.4" fill="#b2b2b2"/>
<rect x="624.61" y="479.5" width="1" height="79.7" fill="#b2b2b2"/>
<rect x="628.30" y="448.8" width="1" height="58.8" fill="#b2b2b2"/>
<rect x="631.99" y="414.5" width="1" height="41.7" fill="#b2b2b2"/>
<rect x="635.69" y="415.7" width="1" height="55.1" fill="#b2b2b2"/>
<rect x="639.38" y="437.8" width="1" height="29.4" fill="#b2b2b2"/>
<rect x="643.07" y="439.0" width="1" height="15.9" fill="#b2b2b2"/>
<rect x="646.77" y="432.9" width="1" height="15.9" fill="#b2b2b2"/>
<rect x="650.46" y="418.2" width="1" height="24.5" fill="#b2b2b2"/>
<rect x="654.16" y="407.2" width="1" height="29.4" fill="#b2b2b2"/>
<rect x="657.85" y="419.4" width="1" height="14.7" fill="#b2b2b2"/>
<rect x="661.54" y="429.2" width="1" height="30.6" fill="#b2b2b2"/>
<rect x="665.24" y="421.9" width="1" height="29.4" fill="#b2b2b2"/>
<rect x="668.93" y="430.4" width="1" height="22.1" fill="#b2b2b2"/>
<rect x="672.62" y="445.1" width="1" height="18.4" fill="#b2b2b2"/>
<rect x="676.32" y="437.8" width="1" height="15.9" fill="#b2b2b2"/>
<rect x="680.01" y="451.3" width="1" height="29.9" fill="#b2b2b2"/>
<rect x="683.70" y="474.6" width="1" height="15.9" fill="#b2b2b2"/>
<rect x="687.40" y="459.9" width="1" height="31.1" fill="#b2b2b2"/>
<rect x="691.09" y="462.7" width="1" height="17.2" fill="#b2b2b2"/>
<rect x="694.78" y="458.4" width="1" height="16.5" fill="#b2b2b2"/>
<rect x="698.48" y="473.7" width="1" height="26.2" fill="#b2b2b2"/>
<rect x="702.17" y="479.2" width="1" height="11.0" fill="#b2b2b2"/>
<rect x="705.86" y="445.5" width="1" height="41.1" fill="#b2b2b2"/>
<rect x="709.56" y="444.3" width="1" height="11.0" fill="#b2b2b2"/>
<rect x="713.25" y="446.2" width="1" height="6.7" fill="#b2b2b2"/>
<rect x="716.94" y="429.6" width="1" height="17.8" fill="#b2b2b2"/>
<rect x="720.64" y="433.9" width="1" height="11.6" fill="#b2b2b2"/>
<rect x="724.33" y="425.3" width="1" height="20.2" fill="#b2b2b2"/>
<rect x="728.03" y="425.3" width="1" height="27.0" fill="#b2b2b2"/>
<rect x="731.72" y="448.6" width="1" height="12.9" fill="#b2b2b2"/>
<rect x="735.41" y="449.8" width="1" height="10.4" fill="#b2b2b2"/>
<rect x="739.11" y="435.7" width="1" height="35.5" fill="#b2b2b2"/>
<rect x="742.80" y="450.4" width="1" height="18.4" fill="#b2b2b2"/>
<rect x="746.49" y="446.8" width="1" height="16.5" fill="#b2b2b2"/>
<rect x="750.19" y="457.2" width="1" height="22.7" fill="#b2b2b2"/>
<rect x="753.88" y="459.6" width="1" height="17.2" fill="#b2b2b2"/>
<rect x="757.57" y="460.9" width="1" height="16.5" fill="#b2b2b2"/>
<rect x="761.27" y="457.2" width="1" height="22.1" fill="#b2b2b2"/>
<rect x="764.96" y="465.8" width="1" height="24.5" fill="#b2b2b2"/>
<rect x="768.65" y="471.9" width="1" height="11.6" fill="#b2b2b2"/>
<rect x="772.35" y="472.5" width="1" height="20.8" fill="#b2b2b2"/>
<rect x="776.04" y="473.1" width="1" height="16.5" fill="#b2b2b2"/>
<rect x="779.73" y="462.1" width="1" height="14.1" fill="#b2b2b2"/>
<rect x="783.43" y="459.2" width="1" height="22.5" fill="#b2b2b2"/>
<rect x="787.12" y="460.0" width="1" height="15.0" fill="#b2b2b2"/>
<rect x="790.81" y="462.2" width="1" height="5.2" fill="#b2b2b2"/>
<rect x="794.51" y="453.2" width="1" height="11.5" fill="#b2b2b2"/>
<rect x="798.20" y="454.0" width="1" height="10.2" fill="#b2b2b2"/>
<rect x="801.90" y="460.7" width="1" height="4.5" fill="#b2b2b2"/>
<rect x="805.59" y="460.0" width="1" height="10.5" fill="#b2b2b2"/>
<rect x="809.28" y="465.2" width="1" height="6.7" fill="#b2b2b2"/>
<rect x="812.98" y="466.7" width="1" height="45.0" fill="#b2b2b2"/>
<rect x="816.67" y="481.0" width="1" height="12.7" fill="#b2b2b2"/>
<rect x="820.36" y="492.2" width="1" height="23.2" fill="#b2b2b2"/>
<rect x="824.06" y="502.0" width="1" height="28.5" fill="#b2b2b2"/>
<rect x="827.75" y="514.0" width="1" height="19.5" fill="#b2b2b2"/>
<rect x="831.44" y="505.0" width="1" height="12.0" fill="#b2b2b2"/>
<rect x="835.14" y="484.0" width="1" height="30.0" fill="#b2b2b2"/>
<rect x="838.83" y="469.0" width="1" height="32.2" fill="#b2b2b2"/>
<rect x="842.52" y="437.5" width="1" height="33.0" fill="#b2b2b2"/>
<rect x="846.22" y="451.7" width="1" height="13.5" fill="#b2b2b2"/>
<rect x="849.91" y="452.5" width="1" height="25.5" fill="#b2b2b2"/>
<rect x="853.60" y="464.5" width="1" height="16.5" fill="#b2b2b2"/>
<rect x="857.30" y="460.0" width="1" height="16.5" fill="#b2b2b2"/>
<rect x="860.99" y="460.7" width="1" height="30.7" fill="#b2b2b2"/>
<rect x="864.68" y="486.2" width="1" height="14.2" fill="#b2b2b2"/>
<rect x="868.38" y="489.2" width="1" height="36.7" fill="#b2b2b2"/>
<rect x="872.07" y="496.7" width="1" height="24.7" fill="#b2b2b2"/>
<rect x="875.77" y="466.7" width="1" height="37.5" fill="#b2b2b2"/>
<rect x="879.46" y="460.1" width="1" height="26.2" fill="#b2b2b2"/>
<rect x="883.15" y="470.7" width="1" height="7.4" fill="#b2b2b2"/>
<rect x="886.85" y="474.0" width="1" height="18.8" fill="#b2b2b2"/>
<rect x="890.54" y="487.9" width="1" height="9.8" fill="#b2b2b2"/>
<rect x="894.23" y="442.1" width="1" height="55.6" fill="#b2b2b2"/>
<rect x="897.93" y="435.6" width="1" height="17.2" fill="#b2b2b2"/>
<rect x="901.62" y="446.2" width="1" height="15.5" fill="#b2b2b2"/>
<rect x="905.31" y="459.3" width="1" height="27.0" fill="#b2b2b2"/>
<rect x="909.01" y="450.3" width="1" height="17.2" fill="#b2b2b2"/>
<rect x="912.70" y="441.3" width="1" height="17.2" fill="#b2b2b2"/>
<rect x="916.39" y="392.3" width="1" height="54.8" fill="#b2b2b2"/>
<rect x="920.09" y="385.7" width="1" height="21.3" fill="#b2b2b2"/>
<rect x="923.78" y="393.9" width="1" height="18.0" fill="#b2b2b2"/>
<rect x="927.47" y="390.6" width="1" height="26.2" fill="#b2b2b2"/>
<rect x="931.17" y="415.1" width="1" height="13.1" fill="#b2b2b2"/>
<rect x="934.86" y="419.2" width="1" height="15.5" fill="#b2b2b2"/>
<rect x="938.55" y="422.2" width="1" height="34.7" fill="#b2b2b2"/>
<rect x="942.25" y="452.7" width="1" height="12.3" fill="#b2b2b2"/>
<rect x="945.94" y="456.0" width="1" height="13.1" fill="#b2b2b2"/>
<rect x="949.64" y="460.1" width="1" height="6.5" fill="#b2b2b2"/>
<rect x="953.33" y="462.6" width="1" height="10.6" fill="#b2b2b2"/>
<rect x="957.02" y="469.1" width="1" height="11.4" fill="#b2b2b2"/>
<rect x="960.72" y="460.1" width="1" height="17.2" fill="#b2b2b2"/>
<rect x="964.41" y="471.5" width="1" height="5.7" fill="#b2b2b2"/>
<rect x="88.05" y="203.6" width="3" height="2.2" fill="#999999"/>
<rect x="91.74" y="203.0" width="3" height="1.6" fill="#999999"/>
<rect x="95.24" y="201.9" width="3.4" height="1.4" fill="#1b3f2e"/>
<rect x="99.13" y="200.8" width="3" height="2.7" fill="#999999"/>
<rect x="103.02" y="201.2" width="2.6" height="2.5" fill="#82bba1" stroke="#22503a" stroke-width="0.9"/>
<rect x="106.32" y="204.3" width="3.4" height="1.4" fill="#1b3f2e"/>
<rect x="110.21" y="197.6" width="3" height="7.6" fill="#999999"/>
<rect x="113.90" y="191.0" width="3" height="6.5" fill="#999999"/>
<rect x="117.60" y="183.7" width="3" height="6.8" fill="#999999"/>
<rect x="121.49" y="183.8" width="2.6" height="14.1" fill="#82bba1" stroke="#22503a" stroke-width="0.9"/>
<rect x="125.18" y="199.1" width="2.6" height="12.3" fill="#82bba1" stroke="#22503a" stroke-width="0.9"/>
<rect x="128.48" y="212.3" width="3.4" height="1.4" fill="#1b3f2e"/>
<rect x="132.37" y="212.1" width="3" height="1.2" fill="#999999"/>
<rect x="136.27" y="213.5" width="2.6" height="5.8" fill="#82bba1" stroke="#22503a" stroke-width="0.9"/>
<rect x="139.76" y="219.0" width="3" height="1.2" fill="#999999"/>
<rect x="143.45" y="210.7" width="3" height="8.2" fill="#999999"/>
<rect x="147.15" y="207.9" width="3" height="2.7" fill="#999999"/>
<rect x="150.84" y="201.9" width="3" height="6.0" fill="#999999"/>
<rect x="154.73" y="202.7" width="2.6" height="12.7" fill="#82bba1" stroke="#22503a" stroke-width="0.9"/>
<rect x="158.23" y="201.4" width="3" height="14.2" fill="#999999"/>
<rect x="162.12" y="201.2" width="2.6" height="15.8" fill="#82bba1" stroke="#22503a" stroke-width="0.9"/>
<rect x="165.61" y="213.9" width="3" height="3.5" fill="#999999"/>
<rect x="169.31" y="212.3" width="3" height="1.6" fill="#999999"/>
<rect x="173.00" y="211.2" width="3" height="1.2" fill="#999999"/>
<rect x="176.69" y="207.9" width="3" height="3.8" fill="#999999"/>
<rect x="180.19" y="208.7" width="3.4" height="1.4" fill="#1b3f2e"/>
<rect x="184.08" y="208.5" width="3" height="1.2" fill="#999999"/>
<rect x="187.77" y="207.5" width="3" height="1.2" fill="#999999"/>
<rect x="191.47" y="186.3" width="3" height="20.7" fill="#999999"/>
<rect x="195.36" y="186.7" width="2.6" height="23.5" fill="#82bba1" stroke="#22503a" stroke-width="0.9"/>
<rect x="199.05" y="211.2" width="2.6" height="4.6" fill="#82bba1" stroke="#22503a" stroke-width="0.9"/>
<rect x="202.55" y="214.1" width="3" height="1.6" fill="#999999"/>
<rect x="206.24" y="193.4" width="3" height="20.2" fill="#999999"/>
<rect x="210.14" y="193.8" width="2.6" height="6.0" fill="#82bba1" stroke="#22503a" stroke-width="0.9"/>
<rect x="213.63" y="199.4" width="3" height="1.2" fill="#999999"/>
<rect x="217.52" y="199.8" width="2.6" height="7.9" fill="#82bba1" stroke="#22503a" stroke-width="0.9"/>
<rect x="221.22" y="208.5" width="2.6" height="3.0" fill="#82bba1" stroke="#22503a" stroke-width="0.9"/>
<rect x="224.51" y="211.4" width="3.4" height="1.4" fill="#1b3f2e"/>
<rect x="228.40" y="205.9" width="3" height="6.5" fill="#999999"/>
<rect x="232.10" y="195.6" width="3" height="10.9" fill="#999999"/>
<rect x="235.79" y="195.0" width="3" height="1.2" fill="#999999"/>
<rect x="239.48" y="189.0" width="3" height="6.5" fill="#999999"/>
<rect x="243.18" y="180.8" width="3" height="7.6" fill="#999999"/>
<rect x="247.07" y="181.2" width="2.6" height="4.1" fill="#82bba1" stroke="#22503a" stroke-width="0.9"/>
<rect x="250.56" y="180.8" width="3" height="4.9" fill="#999999"/>
<rect x="254.26" y="171.6" width="3" height="9.3" fill="#999999"/>
<rect x="257.95" y="161.2" width="3" height="10.3" fill="#999999"/>
<rect x="261.44" y="160.7" width="3.4" height="1.6" fill="#1b3f2e"/>
<rect x="265.34" y="160.7" width="3" height="1.2" fill="#999999"/>
<rect x="269.03" y="148.1" width="3" height="12.0" fill="#999999"/>
<rect x="272.72" y="129.1" width="3" height="19.1" fill="#999999"/>
<rect x="276.22" y="128.3" width="3.4" height="1.4" fill="#1b3f2e"/>
<rect x="280.31" y="130.6" width="2.6" height="7.6" fill="#82bba1" stroke="#22503a" stroke-width="0.9"/>
<rect x="283.81" y="134.0" width="3" height="4.6" fill="#999999"/>
<rect x="287.50" y="131.8" width="3" height="1.2" fill="#999999"/>
<rect x="291.39" y="132.5" width="2.6" height="11.4" fill="#82bba1" stroke="#22503a" stroke-width="0.9"/>
<rect x="295.09" y="144.7" width="2.6" height="18.3" fill="#82bba1" stroke="#22503a" stroke-width="0.9"/>
<rect x="298.58" y="162.8" width="3" height="1.2" fill="#999999"/>
<rect x="302.47" y="164.0" width="2.6" height="9.9" fill="#82bba1" stroke="#22503a" stroke-width="0.9"/>
<rect x="305.97" y="171.0" width="3" height="3.3" fill="#999999"/>
<rect x="309.66" y="166.1" width="3" height="4.4" fill="#999999"/>
<rect x="313.55" y="166.5" width="2.6" height="4.6" fill="#82bba1" stroke="#22503a" stroke-width="0.9"/>
<rect x="317.05" y="168.8" width="3" height="1.2" fill="#999999"/>
<rect x="320.94" y="166.5" width="2.6" height="6.1" fill="#82bba1" stroke="#22503a" stroke-width="0.9"/>
<rect x="324.43" y="172.3" width="3" height="1.2" fill="#999999"/>
<rect x="328.13" y="172.3" width="3" height="1.2" fill="#999999"/>
<rect x="331.62" y="173.2" width="3.4" height="1.4" fill="#1b3f2e"/>
<rect x="335.51" y="172.3" width="3" height="1.4" fill="#999999"/>
<rect x="339.21" y="170.5" width="3" height="2.2" fill="#999999"/>
<rect x="342.90" y="168.8" width="3" height="1.6" fill="#999999"/>
<rect x="346.59" y="163.4" width="3" height="5.4" fill="#999999"/>
<rect x="350.29" y="160.1" width="3" height="2.2" fill="#999999"/>
<rect x="354.18" y="160.0" width="2.6" height="4.1" fill="#82bba1" stroke="#22503a" stroke-width="0.9"/>
<rect x="357.68" y="155.8" width="3" height="8.7" fill="#999999"/>
<rect x="361.37" y="136.1" width="3" height="19.1" fill="#999999"/>
<rect x="365.06" y="110.8" width="3" height="25.1" fill="#999999"/>
<rect x="368.56" y="110.8" width="3.4" height="1.9" fill="#1b3f2e"/>
<rect x="372.45" y="92.9" width="3" height="19.6" fill="#999999"/>
<rect x="376.14" y="91.2" width="3" height="1.2" fill="#999999"/>
<rect x="380.04" y="91.6" width="2.6" height="3.2" fill="#82bba1" stroke="#22503a" stroke-width="0.9"/>
<rect x="383.53" y="93.4" width="3" height="1.2" fill="#999999"/>
<rect x="387.42" y="93.8" width="2.6" height="14.1" fill="#82bba1" stroke="#22503a" stroke-width="0.9"/>
<rect x="390.92" y="107.0" width="3" height="1.2" fill="#999999"/>
<rect x="394.81" y="108.0" width="2.6" height="13.0" fill="#82bba1" stroke="#22503a" stroke-width="0.9"/>
<rect x="398.30" y="109.2" width="3" height="12.0" fill="#999999"/>
<rect x="402.20" y="109.6" width="2.6" height="4.1" fill="#82bba1" stroke="#22503a" stroke-width="0.9"/>
<rect x="405.69" y="108.7" width="3" height="5.4" fill="#999999"/>
<rect x="409.58" y="109.1" width="2.6" height="4.3" fill="#82bba1" stroke="#22503a" stroke-width="0.9"/>
<rect x="412.88" y="113.8" width="3.4" height="1.4" fill="#1b3f2e"/>
<rect x="416.77" y="113.6" width="3" height="1.2" fill="#999999"/>
<rect x="420.66" y="114.8" width="2.6" height="17.7" fill="#82bba1" stroke="#22503a" stroke-width="0.9"/>
<rect x="424.36" y="133.5" width="2.6" height="10.4" fill="#82bba1" stroke="#22503a" stroke-width="0.9"/>
<rect x="427.85" y="140.9" width="3" height="2.7" fill="#999999"/>
<rect x="431.75" y="141.3" width="2.6" height="4.9" fill="#82bba1" stroke="#22503a" stroke-width="0.9"/>
<rect x="435.44" y="147.4" width="2.6" height="17.9" fill="#82bba1" stroke="#22503a" stroke-width="0.9"/>
<rect x="439.13" y="166.5" width="2.6" height="4.6" fill="#82bba1" stroke="#22503a" stroke-width="0.9"/>
<rect x="442.83" y="172.6" width="2.6" height="28.5" fill="#82bba1" stroke="#22503a" stroke-width="0.9"/>
<rect x="446.32" y="191.3" width="3" height="9.8" fill="#999999"/>
<rect x="450.01" y="177.0" width="3" height="13.6" fill="#999999"/>
<rect x="453.91" y="177.4" width="2.6" height="10.5" fill="#82bba1" stroke="#22503a" stroke-width="0.9"/>
<rect x="457.40" y="183.1" width="3" height="4.8" fill="#999999"/>
<rect x="461.29" y="183.5" width="2.6" height="9.4" fill="#82bba1" stroke="#22503a" stroke-width="0.9"/>
<rect x="464.79" y="187.2" width="3" height="6.1" fill="#999999"/>
<rect x="468.28" y="186.1" width="3.4" height="1.4" fill="#1b3f2e"/>
<rect x="472.17" y="184.5" width="3" height="1.6" fill="#999999"/>
<rect x="475.67" y="184.5" width="3.4" height="1.6" fill="#1f4a36"/>
<rect x="479.36" y="185.6" width="3.4" height="1.4" fill="#1b3f2e"/>
<rect x="483.45" y="186.9" width="2.6" height="3.3" fill="#82bba1" stroke="#22503a" stroke-width="0.9"/>
<rect x="486.75" y="190.2" width="3.4" height="1.4" fill="#1b3f2e"/>
<rect x="490.84" y="191.7" width="2.6" height="6.3" fill="#82bba1" stroke="#22503a" stroke-width="0.9"/>
<rect x="494.53" y="199.2" width="2.6" height="1.9" fill="#82bba1" stroke="#22503a" stroke-width="0.9"/>
<rect x="498.23" y="201.9" width="2.6" height="21.0" fill="#82bba1" stroke="#22503a" stroke-width="0.9"/>
<rect x="501.72" y="207.0" width="3" height="16.3" fill="#999999"/>
<rect x="505.62" y="207.0" width="2.6" height="4.1" fill="#82bba1" stroke="#22503a" stroke-width="0.9"/>
<rect x="509.11" y="199.2" width="3" height="11.5" fill="#999999"/>
<rect x="512.60" y="201.9" width="3.4" height="1.4" fill="#1b3f2e"/>
<rect x="516.70" y="202.8" width="2.6" height="3.4" fill="#82bba1" stroke="#22503a" stroke-width="0.9"/>
<rect x="520.19" y="191.2" width="3" height="15.0" fill="#999999"/>
<rect x="523.68" y="191.2" width="3.4" height="1.4" fill="#1b3f2e"/>
<rect x="527.58" y="188.6" width="3" height="3.0" fill="#999999"/>
<rect x="531.07" y="188.2" width="3.4" height="1.6" fill="#1b3f2e"/>
<rect x="535.16" y="190.8" width="2.6" height="11.6" fill="#82bba1" stroke="#22503a" stroke-width="0.9"/>
<rect x="538.86" y="203.7" width="2.6" height="42.4" fill="#82bba1" stroke="#22503a" stroke-width="0.9"/>
<rect x="542.55" y="247.4" width="2.6" height="2.2" fill="#82bba1" stroke="#22503a" stroke-width="0.9"/>
<rect x="546.24" y="250.9" width="2.6" height="22.2" fill="#82bba1" stroke="#22503a" stroke-width="0.9"/>
<rect x="549.74" y="271.8" width="3" height="1.2" fill="#999999"/>
<rect x="553.43" y="255.8" width="3" height="16.5" fill="#999999"/>
<rect x="557.32" y="255.9" width="2.6" height="8.4" fill="#82bba1" stroke="#22503a" stroke-width="0.9"/>
<rect x="561.02" y="265.4" width="2.6" height="27.2" fill="#82bba1" stroke="#22503a" stroke-width="0.9"/>
<rect x="564.71" y="293.7" width="2.6" height="31.6" fill="#82bba1" stroke="#22503a" stroke-width="0.9"/>
<rect x="568.40" y="326.4" width="2.6" height="3.3" fill="#82bba1" stroke="#22503a" stroke-width="0.9"/>
<rect x="572.10" y="330.8" width="2.6" height="8.9" fill="#82bba1" stroke="#22503a" stroke-width="0.9"/>
<rect x="575.79" y="340.6" width="2.6" height="7.2" fill="#82bba1" stroke="#22503a" stroke-width="0.9"/>
<rect x="579.49" y="348.9" width="2.6" height="3.3" fill="#82bba1" stroke="#22503a" stroke-width="0.9"/>
<rect x="582.98" y="323.4" width="3" height="28.8" fill="#999999"/>
<rect x="586.47" y="323.7" width="3.4" height="1.4" fill="#1b3f2e"/>
<rect x="590.37" y="323.9" width="3" height="1.2" fill="#999999"/>
<rect x="594.26" y="325.5" width="2.6" height="6.8" fill="#82bba1" stroke="#22503a" stroke-width="0.9"/>
<rect x="597.95" y="333.5" width="2.6" height="30.2" fill="#82bba1" stroke="#22503a" stroke-width="0.9"/>
<rect x="601.45" y="354.3" width="3" height="9.7" fill="#999999"/>
<rect x="605.34" y="354.7" width="2.6" height="27.2" fill="#82bba1" stroke="#22503a" stroke-width="0.9"/>
<rect x="609.03" y="386.1" width="2.6" height="11.2" fill="#82bba1" stroke="#22503a" stroke-width="0.9"/>
<rect x="612.73" y="398.5" width="2.6" height="30.3" fill="#82bba1" stroke="#22503a" stroke-width="0.9"/>
<rect x="616.42" y="429.6" width="2.6" height="39.6" fill="#82bba1" stroke="#22503a" stroke-width="0.9"/>
<rect x="620.11" y="470.8" width="2.6" height="57.3" fill="#82bba1" stroke="#22503a" stroke-width="0.9"/>
<rect x="623.61" y="504.0" width="3" height="23.8" fill="#999999"/>
<rect x="627.30" y="455.0" width="3" height="49.0" fill="#999999"/>
<rect x="630.99" y="430.4" width="3" height="24.5" fill="#999999"/>
<rect x="634.89" y="430.8" width="2.6" height="29.8" fill="#82bba1" stroke="#22503a" stroke-width="0.9"/>
<rect x="638.38" y="448.8" width="3" height="12.3" fill="#999999"/>
<rect x="642.07" y="446.4" width="3" height="2.5" fill="#999999"/>
<rect x="645.77" y="441.5" width="3" height="5.4" fill="#999999"/>
<rect x="649.46" y="423.1" width="3" height="17.9" fill="#999999"/>
<rect x="653.36" y="423.5" width="2.6" height="8.3" fill="#82bba1" stroke="#22503a" stroke-width="0.9"/>
<rect x="656.85" y="431.2" width="3" height="1.5" fill="#999999"/>
<rect x="660.74" y="432.6" width="2.6" height="9.0" fill="#82bba1" stroke="#22503a" stroke-width="0.9"/>
<rect x="664.24" y="435.3" width="3" height="6.6" fill="#999999"/>
<rect x="668.13" y="435.7" width="2.6" height="15.1" fill="#82bba1" stroke="#22503a" stroke-width="0.9"/>
<rect x="671.62" y="446.9" width="3" height="4.4" fill="#999999"/>
<rect x="675.52" y="447.5" width="2.6" height="3.9" fill="#82bba1" stroke="#22503a" stroke-width="0.9"/>
<rect x="679.21" y="452.4" width="2.6" height="21.7" fill="#82bba1" stroke="#22503a" stroke-width="0.9"/>
<rect x="682.90" y="475.7" width="2.6" height="5.8" fill="#82bba1" stroke="#22503a" stroke-width="0.9"/>
<rect x="686.40" y="475.3" width="3" height="6.1" fill="#999999"/>
<rect x="690.09" y="473.1" width="3" height="1.2" fill="#999999"/>
<rect x="693.58" y="473.1" width="3.4" height="1.4" fill="#1b3f2e"/>
<rect x="697.68" y="474.7" width="2.6" height="10.2" fill="#82bba1" stroke="#22503a" stroke-width="0.9"/>
<rect x="700.97" y="484.8" width="3.4" height="1.4" fill="#1b3f2e"/>
<rect x="704.86" y="454.7" width="3" height="31.5" fill="#999999"/>
<rect x="708.56" y="451.7" width="3" height="3.1" fill="#999999"/>
<rect x="712.25" y="446.8" width="3" height="5.5" fill="#999999"/>
<rect x="715.94" y="440.0" width="3" height="6.7" fill="#999999"/>
<rect x="719.44" y="439.0" width="3.4" height="1.4" fill="#1b3f2e"/>
<rect x="723.33" y="426.5" width="3" height="12.9" fill="#999999"/>
<rect x="727.23" y="426.9" width="2.6" height="20.9" fill="#82bba1" stroke="#22503a" stroke-width="0.9"/>
<rect x="730.92" y="449.4" width="2.6" height="2.5" fill="#82bba1" stroke="#22503a" stroke-width="0.9"/>
<rect x="734.61" y="453.0" width="2.6" height="1.9" fill="#82bba1" stroke="#22503a" stroke-width="0.9"/>
<rect x="738.31" y="456.0" width="2.6" height="12.2" fill="#82bba1" stroke="#22503a" stroke-width="0.9"/>
<rect x="741.80" y="451.1" width="3" height="17.2" fill="#999999"/>
<rect x="745.69" y="452.1" width="2.6" height="4.7" fill="#82bba1" stroke="#22503a" stroke-width="0.9"/>
<rect x="749.39" y="458.2" width="2.6" height="12.1" fill="#82bba1" stroke="#22503a" stroke-width="0.9"/>
<rect x="752.88" y="469.7" width="3" height="1.2" fill="#999999"/>
<rect x="756.57" y="461.5" width="3" height="8.0" fill="#999999"/>
<rect x="760.47" y="462.1" width="2.6" height="3.9" fill="#82bba1" stroke="#22503a" stroke-width="0.9"/>
<rect x="764.16" y="467.0" width="2.6" height="14.9" fill="#82bba1" stroke="#22503a" stroke-width="0.9"/>
<rect x="767.65" y="473.7" width="3" height="8.6" fill="#999999"/>
<rect x="771.55" y="473.9" width="2.6" height="9.0" fill="#82bba1" stroke="#22503a" stroke-width="0.9"/>
<rect x="775.04" y="476.2" width="3" height="7.1" fill="#999999"/>
<rect x="778.73" y="465.8" width="3" height="9.8" fill="#999999"/>
<rect x="782.23" y="465.5" width="3.4" height="1.6" fill="#1b3f2e"/>
<rect x="786.12" y="462.2" width="3" height="6.0" fill="#999999"/>
<rect x="789.61" y="463.3" width="3.4" height="1.4" fill="#1b3f2e"/>
<rect x="793.51" y="454.0" width="3" height="10.2" fill="#999999"/>
<rect x="797.40" y="455.1" width="2.6" height="7.7" fill="#82bba1" stroke="#22503a" stroke-width="0.9"/>
<rect x="800.90" y="462.2" width="3" height="1.2" fill="#999999"/>
<rect x="804.79" y="463.4" width="2.6" height="2.9" fill="#82bba1" stroke="#22503a" stroke-width="0.9"/>
<rect x="808.08" y="466.0" width="3.4" height="1.4" fill="#1b3f2e"/>
<rect x="812.18" y="467.9" width="2.6" height="20.5" fill="#82bba1" stroke="#22503a" stroke-width="0.9"/>
<rect x="815.87" y="489.6" width="2.6" height="2.6" fill="#82bba1" stroke="#22503a" stroke-width="0.9"/>
<rect x="819.56" y="493.4" width="2.6" height="12.4" fill="#82bba1" stroke="#22503a" stroke-width="0.9"/>
<rect x="823.26" y="506.9" width="2.6" height="17.5" fill="#82bba1" stroke="#22503a" stroke-width="0.9"/>
<rect x="826.75" y="514.7" width="3" height="10.0" fill="#999999"/>
<rect x="830.44" y="512.2" width="3" height="1.8" fill="#999999"/>
<rect x="834.14" y="500.5" width="3" height="12.7" fill="#999999"/>
<rect x="837.83" y="469.7" width="3" height="30.7" fill="#999999"/>
<rect x="841.52" y="462.2" width="3" height="7.5" fill="#999999"/>
<rect x="845.02" y="462.7" width="3.4" height="1.5" fill="#1b3f2e"/>
<rect x="849.11" y="465.2" width="2.6" height="4.9" fill="#82bba1" stroke="#22503a" stroke-width="0.9"/>
<rect x="852.60" y="469.3" width="3" height="1.2" fill="#999999"/>
<rect x="856.30" y="466.7" width="3" height="2.5" fill="#999999"/>
<rect x="860.19" y="467.1" width="2.6" height="19.1" fill="#82bba1" stroke="#22503a" stroke-width="0.9"/>
<rect x="863.88" y="487.4" width="2.6" height="2.2" fill="#82bba1" stroke="#22503a" stroke-width="0.9"/>
<rect x="867.58" y="490.7" width="2.6" height="25.1" fill="#82bba1" stroke="#22503a" stroke-width="0.9"/>
<rect x="871.07" y="503.5" width="3" height="12.7" fill="#999999"/>
<rect x="874.77" y="475.7" width="3" height="27.7" fill="#999999"/>
<rect x="878.46" y="473.5" width="3" height="1.3" fill="#999999"/>
<rect x="882.35" y="473.9" width="2.6" height="3.5" fill="#82bba1" stroke="#22503a" stroke-width="0.9"/>
<rect x="886.05" y="478.2" width="2.6" height="12.9" fill="#82bba1" stroke="#22503a" stroke-width="0.9"/>
<rect x="889.54" y="488.7" width="3" height="2.5" fill="#999999"/>
<rect x="893.23" y="447.8" width="3" height="40.9" fill="#999999"/>
<rect x="897.13" y="448.7" width="2.6" height="2.8" fill="#82bba1" stroke="#22503a" stroke-width="0.9"/>
<rect x="900.82" y="452.7" width="2.6" height="7.0" fill="#82bba1" stroke="#22503a" stroke-width="0.9"/>
<rect x="904.51" y="460.8" width="2.6" height="5.1" fill="#82bba1" stroke="#22503a" stroke-width="0.9"/>
<rect x="908.01" y="458.1" width="3" height="8.2" fill="#999999"/>
<rect x="911.70" y="442.9" width="3" height="15.2" fill="#999999"/>
<rect x="915.39" y="392.8" width="3" height="50.7" fill="#999999"/>
<rect x="919.29" y="393.2" width="2.6" height="8.5" fill="#82bba1" stroke="#22503a" stroke-width="0.9"/>
<rect x="922.98" y="403.0" width="2.6" height="6.9" fill="#82bba1" stroke="#22503a" stroke-width="0.9"/>
<rect x="926.67" y="411.1" width="2.6" height="3.6" fill="#82bba1" stroke="#22503a" stroke-width="0.9"/>
<rect x="930.37" y="416.0" width="2.6" height="9.0" fill="#82bba1" stroke="#22503a" stroke-width="0.9"/>
<rect x="933.86" y="422.8" width="3" height="1.2" fill="#999999"/>
<rect x="937.75" y="423.7" width="2.6" height="31.9" fill="#82bba1" stroke="#22503a" stroke-width="0.9"/>
<rect x="941.45" y="456.7" width="2.6" height="4.1" fill="#82bba1" stroke="#22503a" stroke-width="0.9"/>
<rect x="945.14" y="461.6" width="2.6" height="2.5" fill="#82bba1" stroke="#22503a" stroke-width="0.9"/>
<rect x="948.64" y="463.0" width="3" height="1.2" fill="#999999"/>
<rect x="952.53" y="464.6" width="2.6" height="7.4" fill="#82bba1" stroke="#22503a" stroke-width="0.9"/>
<rect x="956.02" y="471.5" width="3" height="1.2" fill="#999999"/>
<rect x="959.52" y="471.9" width="3.4" height="1.4" fill="#1b3f2e"/>
<rect x="963.21" y="472.9" width="3.4" height="2.0" fill="#1f4a36"/>
<rect x="89" y="31.6" width="1111" height="23" fill="#fb9a0a" fill-opacity="0.215"/>
<rect x="89" y="120.6" width="1111" height="22.6" fill="#f23645" fill-opacity="0.185"/>
<rect x="89" y="288.8" width="1111" height="18.6" fill="#fb9a0a" fill-opacity="0.215"/>
<rect x="313" y="382.4" width="768" height="3.5" fill="#f5b954" fill-opacity="0.95"/>
<rect x="598.3" y="420.5" width="371.5" height="2.4" fill="#f5b954" fill-opacity="0.95"/>
<rect x="602" y="525.3" width="375.5" height="2.3" fill="#f5b954" fill-opacity="0.95"/>
<circle cx="855.5" cy="536.5" r="1.3" fill="#f3b24c"/>
<circle cx="859.9" cy="531.5" r="1.3" fill="#f3b24c"/>
<circle cx="864.3" cy="526.4" r="1.3" fill="#f3b24c"/>
<circle cx="868.7" cy="521.4" r="1.3" fill="#f3b24c"/>
<circle cx="873.0" cy="516.3" r="1.3" fill="#f3b24c"/>
<circle cx="877.4" cy="511.2" r="1.3" fill="#f3b24c"/>
<circle cx="881.8" cy="506.2" r="1.3" fill="#f3b24c"/>
<circle cx="886.2" cy="501.1" r="1.3" fill="#f3b24c"/>
<circle cx="890.6" cy="496.1" r="1.3" fill="#f3b24c"/>
<circle cx="895.0" cy="491.1" r="1.3" fill="#f3b24c"/>
<circle cx="899.4" cy="486.0" r="1.3" fill="#f3b24c"/>
<circle cx="903.8" cy="480.9" r="1.3" fill="#f3b24c"/>
<circle cx="908.1" cy="475.9" r="1.3" fill="#f3b24c"/>
<circle cx="912.5" cy="470.9" r="1.3" fill="#f3b24c"/>
<circle cx="916.9" cy="465.8" r="1.3" fill="#f3b24c"/>
<circle cx="921.3" cy="460.8" r="1.3" fill="#f3b24c"/>
<circle cx="925.7" cy="455.7" r="1.3" fill="#f3b24c"/>
<circle cx="930.1" cy="450.7" r="1.3" fill="#f3b24c"/>
<circle cx="934.5" cy="445.6" r="1.3" fill="#f3b24c"/>
<circle cx="938.9" cy="440.6" r="1.3" fill="#f3b24c"/>
<circle cx="943.2" cy="435.5" r="1.3" fill="#f3b24c"/>
<circle cx="947.6" cy="430.4" r="1.3" fill="#f3b24c"/>
<circle cx="952.0" cy="425.4" r="1.3" fill="#f3b24c"/>
<circle cx="956.4" cy="420.4" r="1.3" fill="#f3b24c"/>
<circle cx="960.8" cy="415.3" r="1.3" fill="#f3b24c"/>
<line x1="152" x2="1200" y1="475.2" y2="475.2" stroke="#bccbe0" stroke-width="1" stroke-dasharray="1.3 2.0"/>
</svg>
<div class="abs" style="left:0;top:659.0px;width:89px;height:6.4px;overflow:hidden"><div class="pl" style="right:10px;top:0">52.000,0</div></div>
<div class="pl" style="top:608.6px">56.000,0</div>
<div class="pl" style="top:557.2px">60.000,0</div>
<div class="pl" style="top:505.7px">64.000,0</div>
<div class="pl" style="top:454.3px">68.000,0</div>
<div class="pl" style="top:402.8px">72.000,0</div>
<div class="pl" style="top:351.4px">76.000,0</div>
<div class="pl" style="top:300.0px">80.000,0</div>
<div class="pl" style="top:248.5px">84.000,0</div>
<div class="pl" style="top:197.1px">88.000,0</div>
<div class="pl" style="top:145.6px">92.000,0</div>
<div class="pl" style="top:94.2px">96.000,0</div>
<div class="pl" style="top:42.8px">100.000,0</div>
<div class="abs" style="left:89px;top:8px;width:292px;height:37.5px;background:rgba(255,255,255,0.55)"></div>
<div class="abs" style="left:89px;top:45px;width:202px;height:20px;background:rgba(255,255,255,0.55)"></div>
<div class="abs" style="left:89px;top:66px;width:193px;height:28px;background:rgba(255,255,255,0.8)"></div>
<div class="abs" style="left:89px;top:94px;width:74px;height:27px;background:rgba(255,255,255,0.8)"></div>
<div class="abs" style="left:0;top:0;width:89px;height:48px;background:#fff"></div>
<div class="btn" style="left:5.5px;top:15px;width:78px;height:28.5px;border-color:#e6e6e6;border-radius:6px"></div>
<div class="abs" style="left:9.3px;top:21.2px;font-size:13.2px;line-height:16px;color:#1f1f1f;">USD</div>
<svg class="abs" style="left:70px;top:24px" width="12" height="10" viewBox="0 0 12 10"><path d="M3.4 3.4 L6 6.0 L8.6 3.4" fill="none" stroke="#1f1f1f" stroke-width="1.3" stroke-linecap="round" stroke-linejoin="round"/></svg>
<svg class="abs" style="left:98px;top:19px" width="22" height="22" viewBox="0 0 22 22"><circle cx="11" cy="10.8" r="9.8" fill="#f7931a"/><text x="11" y="15.6" font-family="Liberation Sans, sans-serif" font-weight="bold" font-size="13" fill="#fff" text-anchor="middle" transform="rotate(12 11 11)">&#8383;</text></svg>
<div class="abs" id="title" style="left:123.6px;top:17.7px;font-size:17.6px;line-height:24px;color:#1c1c1c;white-space:nowrap;letter-spacing:0px">Bitcoin / Dollar &#183; 8h &#183; Kraken</div>
<svg class="abs" style="left:352px;top:17px" width="26" height="26" viewBox="0 0 26 26"><circle cx="12.5" cy="12.5" r="11.3" fill="#deeae6"/><circle cx="12.5" cy="12.5" r="5.4" fill="#179a7d"/></svg>
<div class="abs" id="row2" style="left:98.5px;top:45px;font-size:14.6px;line-height:18px;color:#3d7a4c;white-space:nowrap;letter-spacing:0.47px">66.995,8&nbsp; &#8722;274,3 (&#8722;0,41%)</div>
<div class="abs" id="row3" style="left:99.5px;top:71px;font-size:14px;line-height:18px;color:#222;white-space:nowrap;letter-spacing:0.35px">Weekend Saturday Sunday</div>
<div class="abs" id="row4" style="left:99.5px;top:99px;font-size:14px;line-height:18px;color:#222;white-space:nowrap;letter-spacing:0px">Vol &#183; BTC</div>
<div class="btn" style="left:100px;top:127px;width:34px;height:27px;background:rgba(255,255,255,0.92);border-color:#dedede"></div>
<svg class="abs" style="left:108px;top:133px" width="18" height="14" viewBox="0 0 18 14"><path d="M3 10.2 L8.6 4.6 L14.2 10.2" fill="none" stroke="#1a1a1a" stroke-width="2" stroke-linecap="round" stroke-linejoin="round"/></svg>
<div class="btn" style="left:1138px;top:15px;width:25.6px;height:25.6px;border-color:#f0f0f0;border-radius:3.5px"></div>
<svg class="abs" style="left:1143px;top:20px" width="16" height="18" viewBox="0 0 16 18"><path d="M8.6 4.5 V13.9 M4.6 10.1 L8.6 14.1 L12.6 10.1" fill="none" stroke="#222" stroke-width="1.15" stroke-linecap="round" stroke-linejoin="round"/></svg>
<div class="abs" style="left:1169px;top:15px;width:27px;height:26.5px;background:#2a2a2a;border-radius:4.5px"></div>
<svg class="abs" style="left:1174px;top:20px" width="18" height="18" viewBox="0 0 18 18"><path d="M2.5 7.2 V6.2 A3.2 3.2 0 0 1 5.7 3.0 H11.7 A3.2 3.2 0 0 1 14.9 6.2 V7.2 M2.5 10.9 V11.9 A3.2 3.2 0 0 0 5.7 15.1 H11.7 A3.2 3.2 0 0 0 14.9 11.9 V10.9" fill="none" stroke="#fff" stroke-width="1.25" stroke-linecap="butt"/></svg>
<div class="abs" style="left:14.5px;top:466px;width:73.5px;height:34.5px;background:#b4d3f5;border-radius:2px"></div>
<div class="pl" style="top:467px;color:#16233a">66.995,8</div>
<div class="pl" style="top:482.5px;color:#35465e">05:54:16</div>
<div class="abs" style="left:89px;top:466px;width:63px;height:18px;background:#b4d3f5;border-radius:2px"></div>
<div class="abs" id="sym" style="left:93.5px;top:467.5px;font-size:13px;line-height:15px;color:#16233a;letter-spacing:0.1px">BTCUSD</div>
<div class="abs" style="left:0;top:668px;width:89px;height:66px;background:#fff"></div>
<div class="btn" style="left:20.5px;top:669px;width:21px;height:24px;border-color:#e8e8e8"></div>
<div class="btn" style="left:47px;top:669px;width:21.5px;height:24px;border-color:#e8e8e8"></div>
<div class="abs" style="left:20.5px;top:673px;width:21px;text-align:center;font-size:15.5px;line-height:16px;color:#1c1c1c">A</div>
<div class="abs" style="left:47px;top:673px;width:21.5px;text-align:center;font-size:15.5px;line-height:16px;color:#1c1c1c">L</div>
<svg class="abs" style="left:102px;top:665px" width="34" height="18" viewBox="0 0 34 18"><path d="M0 0.3 H13.6 V16.6 H7.2 V6.6 H0 Z M33.3 0.3 L26.2 16.6 H19.2 L26.3 0.3 Z" fill="#111"/><circle cx="19" cy="3.7" r="3.3" fill="#111"/></svg>
<svg class="abs" style="left:35px;top:704px" width="20" height="20" viewBox="0 0 20 20"><path d="M6.1 3.0 H13.9 A1.2 1.2 0 0 1 14.9 3.6 L18.0 9.2 A1.4 1.4 0 0 1 18.0 10.4 L14.9 16.0 A1.2 1.2 0 0 1 13.9 16.6 H6.1 A1.2 1.2 0 0 1 5.1 16.0 L2.0 10.4 A1.4 1.4 0 0 1 2.0 9.2 L5.1 3.6 A1.2 1.2 0 0 1 6.1 3.0 Z" fill="none" stroke="#1c1c1c" stroke-width="1.4" stroke-linejoin="round"/><circle cx="10" cy="9.8" r="2.3" fill="none" stroke="#1c1c1c" stroke-width="1.4"/></svg>
<svg class="abs" style="left:940px;top:665px" width="100" height="40" viewBox="940 665 100 40"><g transform="translate(1017.4,683.2)"><circle r="10.6" fill="#fff" stroke="#e0434c" stroke-width="1.9"/><clipPath id="fc3"><circle r="7.9"/></clipPath><g clip-path="url(#fc3)"><rect x="-9" y="-9" width="18" height="18" fill="#fff"/><rect x="-9" y="-8.2" width="18" height="3.0" fill="#e8504b"/><rect x="-9" y="-2.0" width="18" height="3.0" fill="#e8504b"/><rect x="-9" y="4.3" width="18" height="3.0" fill="#e8504b"/><rect x="-9" y="-9" width="10.6" height="10.2" fill="#3f86ea"/><rect x="-6.8" y="-7.0" width="1.2" height="1.2" fill="#bfe3ff"/><rect x="-6.8" y="-4.2" width="1.2" height="1.2" fill="#bfe3ff"/><rect x="-6.8" y="-1.4" width="1.2" height="1.2" fill="#bfe3ff"/><rect x="-4.0" y="-7.0" width="1.2" height="1.2" fill="#bfe3ff"/><rect x="-4.0" y="-4.2" width="1.2" height="1.2" fill="#bfe3ff"/><rect x="-4.0" y="-1.4" width="1.2" height="1.2" fill="#bfe3ff"/><rect x="-1.2" y="-7.0" width="1.2" height="1.2" fill="#bfe3ff"/><rect x="-1.2" y="-4.2" width="1.2" height="1.2" fill="#bfe3ff"/><rect x="-1.2" y="-1.4" width="1.2" height="1.2" fill="#bfe3ff"/></g></g><g transform="translate(1006.3,683.2)"><circle r="10.6" fill="#fff" stroke="#e0434c" stroke-width="1.9"/><clipPath id="fc2"><circle r="7.9"/></clipPath><g clip-path="url(#fc2)"><rect x="-9" y="-9" width="18" height="18" fill="#fff"/><rect x="-9" y="-8.2" width="18" height="3.0" fill="#e8504b"/><rect x="-9" y="-2.0" width="18" height="3.0" fill="#e8504b"/><rect x="-9" y="4.3" width="18" height="3.0" fill="#e8504b"/><rect x="-9" y="-9" width="10.6" height="10.2" fill="#3f86ea"/><rect x="-6.8" y="-7.0" width="1.2" height="1.2" fill="#bfe3ff"/><rect x="-6.8" y="-4.2" width="1.2" height="1.2" fill="#bfe3ff"/><rect x="-6.8" y="-1.4" width="1.2" height="1.2" fill="#bfe3ff"/><rect x="-4.0" y="-7.0" width="1.2" height="1.2" fill="#bfe3ff"/><rect x="-4.0" y="-4.2" width="1.2" height="1.2" fill="#bfe3ff"/><rect x="-4.0" y="-1.4" width="1.2" height="1.2" fill="#bfe3ff"/><rect x="-1.2" y="-7.0" width="1.2" height="1.2" fill="#bfe3ff"/><rect x="-1.2" y="-4.2" width="1.2" height="1.2" fill="#bfe3ff"/><rect x="-1.2" y="-1.4" width="1.2" height="1.2" fill="#bfe3ff"/></g></g><g transform="translate(995.2,683.2)"><circle r="10.6" fill="#fff" stroke="#e0434c" stroke-width="1.9"/><clipPath id="fc1"><circle r="7.9"/></clipPath><g clip-path="url(#fc1)"><rect x="-9" y="-9" width="18" height="18" fill="#fff"/><rect x="-9" y="-8.2" width="18" height="3.0" fill="#e8504b"/><rect x="-9" y="-2.0" width="18" height="3.0" fill="#e8504b"/><rect x="-9" y="4.3" width="18" height="3.0" fill="#e8504b"/><rect x="-9" y="-9" width="10.6" height="10.2" fill="#3f86ea"/><rect x="-6.8" y="-7.0" width="1.2" height="1.2" fill="#bfe3ff"/><rect x="-6.8" y="-4.2" width="1.2" height="1.2" fill="#bfe3ff"/><rect x="-6.8" y="-1.4" width="1.2" height="1.2" fill="#bfe3ff"/><rect x="-4.0" y="-7.0" width="1.2" height="1.2" fill="#bfe3ff"/><rect x="-4.0" y="-4.2" width="1.2" height="1.2" fill="#bfe3ff"/><rect x="-4.0" y="-1.4" width="1.2" height="1.2" fill="#bfe3ff"/><rect x="-1.2" y="-7.0" width="1.2" height="1.2" fill="#bfe3ff"/><rect x="-1.2" y="-4.2" width="1.2" height="1.2" fill="#bfe3ff"/><rect x="-1.2" y="-1.4" width="1.2" height="1.2" fill="#bfe3ff"/></g></g><g transform="translate(984.2,683.2)"><circle r="10.6" fill="#fff" stroke="#e0434c" stroke-width="1.9"/><clipPath id="fc0"><circle r="7.9"/></clipPath><g clip-path="url(#fc0)"><rect x="-9" y="-9" width="18" height="18" fill="#fff"/><rect x="-9" y="-8.2" width="18" height="3.0" fill="#e8504b"/><rect x="-9" y="-2.0" width="18" height="3.0" fill="#e8504b"/><rect x="-9" y="4.3" width="18" height="3.0" fill="#e8504b"/><rect x="-9" y="-9" width="10.6" height="10.2" fill="#3f86ea"/><rect x="-6.8" y="-7.0" width="1.2" height="1.2" fill="#bfe3ff"/><rect x="-6.8" y="-4.2" width="1.2" height="1.2" fill="#bfe3ff"/><rect x="-6.8" y="-1.4" width="1.2" height="1.2" fill="#bfe3ff"/><rect x="-4.0" y="-7.0" width="1.2" height="1.2" fill="#bfe3ff"/><rect x="-4.0" y="-4.2" width="1.2" height="1.2" fill="#bfe3ff"/><rect x="-4.0" y="-1.4" width="1.2" height="1.2" fill="#bfe3ff"/><rect x="-1.2" y="-7.0" width="1.2" height="1.2" fill="#bfe3ff"/><rect x="-1.2" y="-4.2" width="1.2" height="1.2" fill="#bfe3ff"/><rect x="-1.2" y="-1.4" width="1.2" height="1.2" fill="#bfe3ff"/></g></g><g transform="translate(963.5,683.5)"><circle r="10.3" fill="#fff" stroke="#7d2f95" stroke-width="1.8"/><path d="M4.3 -5.2 L-2.9 0.9 L0.7 0.4 L-1.9 5.5 L4.6 -1.2 L1.2 -0.5 Z" fill="#a53fd6" stroke="#a53fd6" stroke-width="1.0" stroke-linejoin="round"/></g></svg>
<div class="abs" style="left:190px;top:706px;width:80px;text-align:center;font-size:14.5px;line-height:16px;font-weight:bold;color:#1a1a1a;letter-spacing:0.4px">2026</div>
<div class="abs" style="left:533px;top:706px;width:80px;text-align:center;font-size:14.5px;line-height:16px;color:#222">Feb</div>
<div class="abs" style="left:843px;top:706px;width:80px;text-align:center;font-size:14.5px;line-height:16px;color:#222">Mrz</div>
<div class="abs" style="left:0;top:727px;width:1200px;height:7px;background:#f6f6f6;border-top:1px solid #ececec;box-sizing:border-box;overflow:hidden"><div class="abs" style="left:16px;top:-1.9px;font-size:17px;line-height:17px;color:#b9b9b9;letter-spacing:0.4px">TOTAL3</div><div class="abs" style="left:154.5px;top:-1.9px;font-size:17px;line-height:17px;color:#b9b9b9">4H</div></div>
<div class="abs" style="left:0;top:732.7px;width:1200px;height:1.3px;background:#7c7c7c"></div>
</body></html>
